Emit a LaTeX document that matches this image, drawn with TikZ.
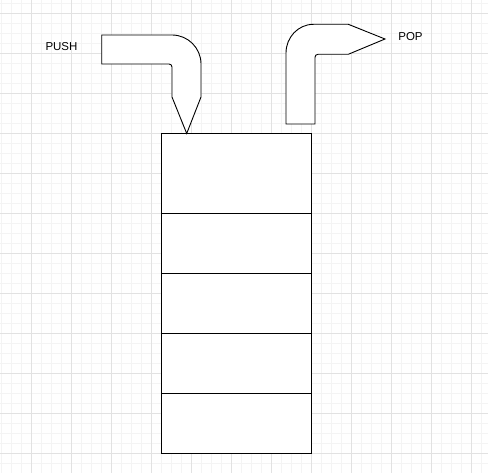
\documentclass[tikz,border=0pt]{standalone}
\usepackage{fontspec}
\setmainfont{Liberation Sans}
\definecolor{gridminor}{HTML}{F4F4F4}
\definecolor{gridmajor}{HTML}{E2E2E2}
\begin{document}
\begin{tikzpicture}[x=1pt,y=-1pt,
  minorline/.style={draw=gridminor,line width=0.7pt},
  majorline/.style={draw=gridmajor,line width=0.8pt},
  cell/.style={draw=black,line width=1pt,fill=white,minimum width=149.6pt,inner sep=0pt,outer sep=0pt},
  arrowshape/.style={draw=black,line width=0.9pt,fill=white,line join=miter},
  lbl/.style={font=\fontsize{11.5pt}{13pt}\selectfont,text=black,inner sep=0pt}]
\useasboundingbox (0,0) rectangle (488,473);
\fill[white] (0,0) rectangle (488,473);
% grid
\foreach \x in {1.7,11.7,...,481.7} \draw[minorline] (\x,0) -- (\x,473);
\foreach \y in {3.3,13.3,...,473} \draw[minorline] (0,\y) -- (488,\y);
\foreach \x in {31.7,71.7,...,481.7} \draw[majorline] (\x,0) -- (\x,473);
\foreach \y in {13.3,53.3,...,473} \draw[majorline] (0,\y) -- (488,\y);
% stack
\node[cell,minimum height=80pt] (s1) at (236.5,174) {};
\node[cell,minimum height=60pt] (s2) at (236.5,244) {};
\node[cell,minimum height=60pt] (s3) at (236.5,304) {};
\node[cell,minimum height=60pt] (s4) at (236.5,364) {};
\node[cell,minimum height=60pt] (s5) at (236.5,424) {};
% push arrow
\draw[arrowshape] (101.7,35) -- (172,35)
  .. controls (188,35) and (201,48) .. (201,64)
  -- (201,97) -- (186.7,133.5) -- (172,97) -- (172,67)
  .. controls (172,65.3) and (170.7,64) .. (169,64)
  -- (101.7,64) -- cycle;
% pop arrow
\draw[arrowshape] (286,124) -- (286,53)
  .. controls (286,37.5) and (298,24.3) .. (313.5,24.3)
  -- (348.3,24.3) -- (385,39) -- (348.3,54.3) -- (318,54.3)
  .. controls (316.3,54.3) and (315,55.6) .. (315,57.3)
  -- (315,124) -- cycle;
% labels
\node[lbl] (push) at (61.5,47) {PUSH};
\node[lbl] (pop) at (410.5,37) {POP};
\end{tikzpicture}
\end{document}
